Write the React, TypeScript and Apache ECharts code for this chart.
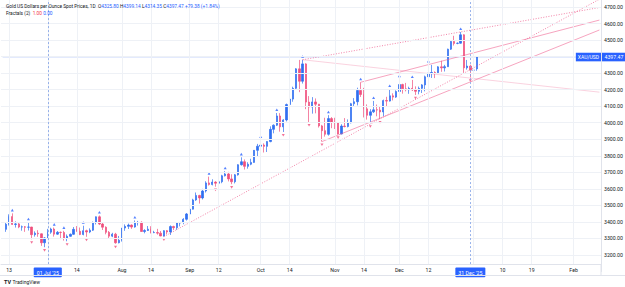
import { useEffect, useRef } from 'react';
import * as echarts from 'echarts';

const FONT = 'Roboto, "Noto Sans", sans-serif';
const UP = '#2f6ff0';
const DOWN = '#ef4f7d';
const TEXT = '#131722';

// Session calendar: weekday sessions, then calendar days of blank space on the right
const sessionStart = '2025-06-11';
const sessionEnd = '2026-01-02';
const axisEnd = '2026-02-09';

// Daily bars as [open, high, low, close]
const juneBars = [
  [3355, 3398, 3340, 3386], [3386, 3446, 3378, 3433], [3432, 3452, 3382, 3385],
  [3385, 3403, 3366, 3388], [3388, 3395, 3362, 3369], [3369, 3378, 3347, 3370],
  [3370, 3375, 3340, 3368], [3368, 3398, 3348, 3369], [3369, 3370, 3295, 3323],
  [3323, 3343, 3311, 3332], [3332, 3350, 3310, 3328], [3328, 3330, 3255, 3274],
  [3274, 3308, 3247, 3303],
];
const julyBars = [
  [3303, 3358, 3296, 3338], [3338, 3365, 3328, 3357], [3357, 3366, 3311, 3326],
  [3326, 3345, 3322, 3337], [3337, 3342, 3296, 3336], [3336, 3346, 3287, 3301],
  [3301, 3324, 3283, 3313], [3313, 3330, 3310, 3325], [3325, 3369, 3322, 3355],
  [3355, 3375, 3341, 3343], [3343, 3366, 3320, 3324], [3324, 3377, 3319, 3347],
  [3347, 3353, 3310, 3339], [3339, 3361, 3332, 3350], [3350, 3402, 3345, 3397],
  [3397, 3433, 3385, 3431], [3431, 3439, 3381, 3387], [3387, 3394, 3351, 3368],
  [3368, 3373, 3325, 3337], [3337, 3345, 3301, 3314], [3314, 3334, 3308, 3326],
  [3326, 3334, 3268, 3274], [3274, 3315, 3270, 3289],
];
const augustBars = [
  [3289, 3363, 3281, 3363], [3363, 3385, 3346, 3373], [3373, 3390, 3357, 3381],
  [3381, 3385, 3358, 3369], [3369, 3409, 3365, 3396], [3396, 3406, 3378, 3397],
  [3397, 3404, 3340, 3342], [3342, 3356, 3331, 3348], [3348, 3375, 3345, 3356],
  [3356, 3374, 3330, 3335], [3335, 3346, 3332, 3336], [3336, 3358, 3323, 3332],
  [3332, 3345, 3314, 3315], [3315, 3350, 3311, 3347], [3347, 3351, 3325, 3339],
  [3339, 3379, 3321, 3372], [3372, 3377, 3351, 3365], [3365, 3394, 3352, 3393],
  [3393, 3398, 3373, 3397], [3397, 3423, 3386, 3416], [3416, 3454, 3408, 3448],
];
const septemberBars = [
  [3448, 3489, 3436, 3477], [3477, 3540, 3475, 3533], [3533, 3578, 3527, 3560],
  [3560, 3564, 3511, 3545], [3545, 3600, 3536, 3587], [3587, 3646, 3578, 3636],
  [3636, 3674, 3620, 3626], [3626, 3658, 3621, 3641], [3641, 3646, 3613, 3634],
  [3634, 3655, 3631, 3643], [3643, 3685, 3634, 3679], [3679, 3707, 3675, 3690],
  [3690, 3703, 3645, 3660], [3660, 3688, 3628, 3643], [3643, 3690, 3633, 3685],
  [3685, 3749, 3680, 3746], [3746, 3791, 3741, 3764], [3764, 3778, 3717, 3736],
  [3736, 3761, 3722, 3749], [3749, 3782, 3743, 3760], [3760, 3835, 3758, 3833],
  [3833, 3872, 3793, 3858],
];
const octoberBars = [
  [3858, 3896, 3852, 3865], [3865, 3875, 3820, 3857], [3857, 3889, 3823, 3886],
  [3886, 3978, 3882, 3960], [3960, 3990, 3936, 3985], [3985, 4059, 3980, 4041],
  [4041, 4058, 3946, 3975], [3975, 4022, 3944, 4017], [4017, 4116, 4008, 4110],
  [4110, 4179, 4096, 4143], [4143, 4218, 4127, 4208], [4208, 4330, 4199, 4326],
  [4326, 4380, 4185, 4251], [4251, 4381, 4237, 4356], [4356, 4360, 4082, 4125],
  [4125, 4161, 4004, 4095], [4095, 4155, 4055, 4126], [4126, 4147, 4057, 4112],
  [4112, 4114, 3971, 3981], [3981, 3987, 3886, 3952], [3952, 4030, 3916, 3930],
  [3930, 4046, 3922, 4025], [4025, 4034, 3967, 4002],
];
const novemberBars = [
  [4002, 4030, 3962, 4001], [4001, 4004, 3929, 3932], [3932, 3991, 3930, 3980],
  [3980, 4028, 3972, 3977], [3977, 4020, 3972, 4000], [4000, 4120, 3996, 4115],
  [4115, 4149, 4097, 4127], [4127, 4212, 4105, 4195], [4195, 4245, 4156, 4171],
  [4171, 4211, 4032, 4084], [4084, 4111, 4019, 4045], [4045, 4082, 3997, 4066],
  [4066, 4132, 4059, 4078], [4078, 4110, 4039, 4077], [4077, 4100, 4022, 4065],
  [4065, 4140, 4040, 4134], [4134, 4157, 4100, 4131], [4131, 4204, 4128, 4163],
  [4163, 4178, 4135, 4155], [4155, 4196, 4150, 4189],
];
const decemberBars = [
  [4189, 4264, 4180, 4231], [4231, 4236, 4176, 4205], [4205, 4241, 4190, 4200],
  [4200, 4218, 4175, 4208], [4208, 4259, 4192, 4198], [4198, 4220, 4168, 4190],
  [4190, 4219, 4172, 4208], [4208, 4234, 4180, 4229], [4229, 4285, 4190, 4278],
  [4278, 4353, 4266, 4300], [4300, 4350, 4271, 4304], [4304, 4311, 4270, 4302],
  [4302, 4342, 4295, 4338], [4338, 4375, 4308, 4332], [4332, 4350, 4310, 4339],
  [4339, 4448, 4338, 4445], [4445, 4497, 4440, 4492], [4492, 4526, 4467, 4480],
  [4480, 4486, 4475, 4481], [4481, 4549, 4478, 4532], [4532, 4535, 4302, 4332],
  [4332, 4380, 4321, 4343], [4343, 4351, 4274, 4318.09],
];
const januaryBars = [
  [4318.09, 4321, 4315, 4318.09], [4325.8, 4399.14, 4314.35, 4397.47],
];

// Price scale
const priceMin = 3100;
const priceMax = 4800;
const priceStep = 100;
const priceTicks = [3200, 3300, 3400, 3500, 3600, 3700, 3800, 3900, 4000, 4100, 4200, 4300, 4400, 4500, 4600, 4700];
const paneFloor = 3145; // price at the time scale's top edge

// Time scale labels
const tickDates = ['2025-06-13', '2025-07-14', '2025-08-01', '2025-08-14', '2025-09-01', '2025-09-12', '2025-10-01', '2025-10-14', '2025-11-03', '2025-11-14', '2025-12-01', '2025-12-12', '2026-01-10', '2026-01-19', '2026-02-01'];
const tickTexts = ['13', '14', 'Aug', '14', 'Sep', '12', 'Oct', '14', 'Nov', '14', 'Dec', '12', '10', '19', 'Feb'];
const markerDates = ['2025-07-01', '2025-12-31'];
const markerTexts = ["01 Jul '25", "31 Dec '25"];
const extraGridDates = ['2025-07-01', '2026-01-01'];

// Trend lines: anchor [date, price] pairs
const trendStarts: [string, number][] = [
  ['2025-08-20', 3311], ['2025-10-20', 4381], ['2025-10-20', 4381], ['2025-10-28', 3886], ['2025-11-13', 4245],
];
const trendEnds: [string, number][] = [
  ['2026-02-09', 4747], ['2026-02-09', 4697], ['2026-02-09', 4185], ['2026-02-09', 4561], ['2026-02-09', 4621],
];

const symbolTitle = 'Gold US Dollars per Ounce Spot Prices, 1D';
const symbolTag = 'XAU/USD';
const fractalTitle = 'Fractals (2)';
const fractalValues = ['1.00', '0.00'];

function iso(d: Date) {
  return d.toISOString().slice(0, 10);
}

function buildCategories() {
  const out: string[] = [];
  const d = new Date(sessionStart + 'T00:00:00Z');
  const sEnd = new Date(sessionEnd + 'T00:00:00Z');
  while (d <= sEnd) {
    const w = d.getUTCDay();
    if (w !== 0 && w !== 6) out.push(iso(d));
    d.setUTCDate(d.getUTCDate() + 1);
  }
  const aEnd = new Date(axisEnd + 'T00:00:00Z');
  while (d <= aEnd) {
    out.push(iso(d));
    d.setUTCDate(d.getUTCDate() + 1);
  }
  return out;
}

export default function App() {
  const ref = useRef<HTMLDivElement>(null);

  useEffect(() => {
    if (!ref.current) return;
    const chart = echarts.init(ref.current, undefined, { renderer: 'svg' });

    const categories = buildCategories();
    // first session has no bar on screen
    const bars: (number[] | null)[] = [
      null,
      ...juneBars, ...julyBars, ...augustBars, ...septemberBars,
      ...octoberBars, ...novemberBars, ...decemberBars, ...januaryBars,
    ];

    const candleData = bars.map((b) => (b ? [b[0], b[3], b[2], b[1]] : ['-', '-', '-', '-']));

    // Williams fractals, period 2
    const upFractals: [string, number][] = [];
    const downFractals: [string, number][] = [];
    for (let i = 2; i < bars.length - 2; i++) {
      const b = bars[i];
      if (!b) continue;
      const nb = [i - 2, i - 1, i + 1, i + 2].map((j) => bars[j]);
      if (nb.every((n) => n && b[1] > n[1])) upFractals.push([categories[i], b[1]]);
      if (nb.every((n) => n && b[2] < n[2])) downFractals.push([categories[i], b[2]]);
    }

    const last = bars[bars.length - 1] as number[];
    const prev = bars[bars.length - 2] as number[];
    const change = last[3] - prev[3];
    const pct = (change / prev[3]) * 100;
    const sign = change >= 0 ? '+' : '';
    const f2 = (v: number) => v.toFixed(2);

    const tickMap = new Map<string, string>();
    tickDates.forEach((d, i) => tickMap.set(d, tickTexts[i]));
    markerDates.forEach((d, i) => tickMap.set(d, `{hl|${markerTexts[i]}}`));

    const vLine = (date: string, style: any) => [
      { coord: [date, paneFloor], lineStyle: style },
      { coord: [date, priceMax] },
    ];

    const gridStyle = { color: '#eef1f6', width: 1, type: 'solid' };
    const markerStyle = { color: '#7f9fe6', width: 0.8, type: [2, 2] };
    const clearLine = { color: 'rgba(255,255,255,0)', width: 0.8, type: 'solid' };

    const trendStyles = [
      { color: '#ee5c8c', width: 0.9, type: [1, 1.6], opacity: 0.85 },
      { color: '#ee5c8c', width: 0.9, type: [1, 1.6], opacity: 0.85 },
      { color: '#ee5c8c', width: 0.8, type: 'solid', opacity: 0.35 },
      { color: '#ee5c8c', width: 0.8, type: 'solid', opacity: 0.7 },
      { color: '#ee5c8c', width: 0.8, type: 'solid', opacity: 0.7 },
    ];

    const trendSeries = trendStarts.map((s, i) => ({
      type: 'line',
      data: [s, trendEnds[i]],
      showSymbol: false,
      symbol: 'none',
      silent: true,
      z: 4,
      lineStyle: trendStyles[i],
    }));

    const tagLabel = {
      backgroundColor: '#2962ff',
      color: '#ffffff',
      fontFamily: FONT,
    };

    const option: any = {
      animation: false,
      backgroundColor: '#ffffff',
      grid: {
        left: 1,
        right: 24,
        top: -9.5,
        bottom: 15.5,
        containLabel: false,
        outerBoundsMode: 'none',
      },
      xAxis: {
        type: 'category',
        data: categories,
        boundaryGap: true,
        offset: -7.5,
        axisLine: { show: true, lineStyle: { color: '#e0e3eb', width: 1 } },
        axisTick: { show: false },
        splitLine: { show: false },
        axisLabel: {
          interval: (_i: number, v: string) => tickMap.has(v),
          formatter: (v: string) => tickMap.get(v) || '',
          fontSize: 5.2,
          fontFamily: FONT,
          color: TEXT,
          margin: 3.5,
          rich: {
            hl: {
              backgroundColor: '#2962ff',
              color: '#ffffff',
              fontSize: 5.2,
              fontFamily: FONT,
              padding: [2.6, 3, 2.2, 3],
              borderRadius: 1,
            },
          },
        },
      },
      yAxis: {
        type: 'value',
        position: 'right',
        min: priceMin,
        max: priceMax,
        interval: priceStep,
        scale: true,
        axisLine: { show: true, lineStyle: { color: '#e0e3eb', width: 1 } },
        axisTick: { show: false },
        splitLine: { show: false },
        axisLabel: {
          showMinLabel: false,
          showMaxLabel: false,
          formatter: (v: number) => v.toFixed(2),
          fontSize: 5.2,
          fontFamily: FONT,
          color: TEXT,
          margin: 3,
        },
      },
      series: [
        {
          type: 'line',
          data: [],
          silent: true,
          z: 0,
          markLine: {
            silent: true,
            symbol: 'none',
            animation: false,
            label: { show: false },
            lineStyle: gridStyle,
            emphasis: { disabled: true },
            data: [
              ...priceTicks.map((p) => ({ yAxis: p, lineStyle: gridStyle })),
              ...[...tickDates, ...extraGridDates].map((d) => vLine(d, gridStyle)),
            ],
          },
        },
        {
          // last-price line across the pane, with its scale tags
          type: 'line',
          data: [
            [categories[0], last[3]],
            [categories[categories.length - 1], last[3]],
          ],
          showSymbol: false,
          symbol: 'none',
          silent: true,
          z: 1,
          lineStyle: { color: '#bccefa', width: 0.8, type: 'solid' },
          markLine: {
            silent: true,
            symbol: 'none',
            animation: false,
            lineStyle: clearLine,
            emphasis: { disabled: true },
            data: [
              {
                yAxis: last[3],
                lineStyle: clearLine,
                label: {
                  ...tagLabel,
                  show: true,
                  position: 'end',
                  distance: 1,
                  formatter: f2(last[3]),
                  fontSize: 5.2,
                  padding: [2, 2.5, 1.6, 2.5],
                },
              },
              {
                yAxis: last[3],
                lineStyle: clearLine,
                label: {
                  ...tagLabel,
                  show: true,
                  position: 'insideEnd',
                  distance: 0,
                  formatter: symbolTag,
                  fontSize: 5,
                  padding: [2, 2, 1.6, 2],
                },
              },
            ],
          },
        },
        {
          type: 'line',
          data: [],
          silent: true,
          z: 5,
          markLine: {
            silent: true,
            symbol: 'none',
            animation: false,
            label: { show: false },
            lineStyle: markerStyle,
            emphasis: { disabled: true },
            data: markerDates.map((d) => vLine(d, markerStyle)),
          },
        },
        {
          type: 'candlestick',
          data: candleData,
          barWidth: 1.9,
          z: 3,
          itemStyle: {
            color: UP,
            color0: DOWN,
            borderColor: UP,
            borderColor0: DOWN,
            borderWidth: 0.7,
          },
        },
        {
          type: 'scatter',
          data: upFractals,
          symbol: 'triangle',
          symbolSize: [3, 2.6],
          symbolOffset: [0, -3.2],
          silent: true,
          z: 4,
          itemStyle: { color: '#2962ff' },
        },
        {
          type: 'scatter',
          data: downFractals,
          symbol: 'triangle',
          symbolRotate: 180,
          symbolSize: [3, 2.6],
          symbolOffset: [0, 3.2],
          silent: true,
          z: 4,
          itemStyle: { color: DOWN },
        },
        ...trendSeries,
      ],
      graphic: [
        {
          type: 'text',
          x: 6,
          y: 3.5,
          z: 10,
          style: {
            text:
              `{t|${symbolTitle}}  {k|O}{v|${f2(last[0])}} {k|H}{v|${f2(last[1])}} {k|L}{v|${f2(last[2])}} ` +
              `{k|C}{v|${f2(last[3])}} {v|${sign}${f2(change)} (${sign}${pct.toFixed(2)}%)}`,
            fontSize: 4.8,
            fontFamily: FONT,
            fill: TEXT,
            rich: {
              t: { fill: TEXT, fontSize: 4.8, fontFamily: FONT },
              k: { fill: TEXT, fontSize: 4.8, fontFamily: FONT },
              v: { fill: '#2962ff', fontSize: 4.8, fontFamily: FONT },
            },
          },
        },
        {
          type: 'text',
          x: 6,
          y: 11,
          z: 10,
          style: {
            text: `{t|${fractalTitle}}  {r|${fractalValues[0]}} {b|${fractalValues[1]}}`,
            fontSize: 4.8,
            fontFamily: FONT,
            fill: TEXT,
            rich: {
              t: { fill: TEXT, fontSize: 4.8, fontFamily: FONT },
              r: { fill: '#f23645', fontSize: 4.8, fontFamily: FONT },
              b: { fill: '#2962ff', fontSize: 4.8, fontFamily: FONT },
            },
          },
        },
        { type: 'line', z: 1, shape: { x1: 0, y1: 275.5, x2: 625, y2: 275.5 }, style: { stroke: '#e0e3eb', lineWidth: 1 } },
        { type: 'line', z: 1, shape: { x1: 601, y1: 264, x2: 601, y2: 275.5 }, style: { stroke: '#e0e3eb', lineWidth: 1 } },
        {
          type: 'text',
          x: 4,
          y: 278.5,
          z: 10,
          style: { text: 'TV', fontSize: 5.5, fontWeight: 'bold', fontFamily: FONT, fill: TEXT },
        },
        {
          type: 'text',
          x: 12.5,
          y: 279,
          z: 10,
          style: { text: 'TradingView', fontSize: 5, fontFamily: FONT, fill: TEXT },
        },
      ],
    };

    chart.setOption(option);
    return () => {
      chart.dispose();
    };
  }, []);

  return (
    <div
      ref={ref}
      style={{ position: 'fixed', left: 0, top: 0, width: 625, height: 287, background: '#fff' }}
    />
  );
}
